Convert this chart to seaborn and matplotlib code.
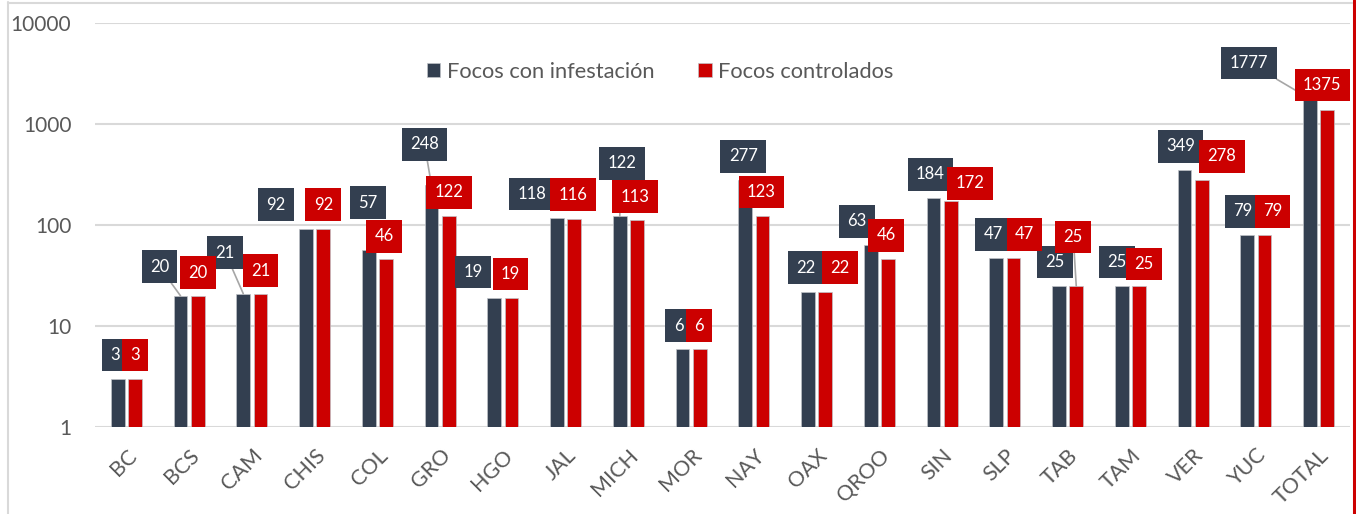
import matplotlib
matplotlib.use("Agg")
import matplotlib.pyplot as plt
from matplotlib.lines import Line2D
from matplotlib.ticker import NullLocator, FixedLocator, FixedFormatter
import seaborn as sns
import pandas as pd

# ---------------- data ----------------
estados = ["BC", "BCS", "CAM", "CHIS", "COL", "GRO", "HGO", "JAL", "MICH", "MOR",
           "NAY", "OAX", "QROO", "SIN", "SLP", "TAB", "TAM", "VER", "YUC", "TOTAL"]
focos_infestacion = [3, 20, 21, 92, 57, 248, 19, 118, 122, 6,
                     277, 22, 63, 184, 47, 25, 25, 349, 79, 1777]
focos_controlados = [3, 20, 21, 92, 46, 122, 19, 116, 113, 6,
                     123, 22, 46, 172, 47, 25, 25, 278, 79, 1375]
series_names = ["Focos con infestación", "Focos controlados"]
y_ticks = [1, 10, 100, 1000, 10000]
y_tick_labels = ["1", "10", "100", "1000", "10000"]

# ---------------- style ----------------
DARK = "#333F50"
RED = "#CC0000"
GRAY_TXT = "#595959"
GRID = "#D9D9D9"
FONT = ["Lato", "DejaVu Sans"]

# label offsets (pixels) from the top centre of each bar
off_dark = [(-3, 24), (-21, 29), (-18, 41), (-30, 24), (-1, 47), (-7, 41), (-21, 26),
            (-25, 24), (2, 53), (-4, 23), (-2, 24), (-2, 24), (-14, 24), (-3, 24),
            (-3, 24), (-4, 24), (-5, 24), (-4, 24), (-4, 24), (-61, 36)]
off_red = [(0, 24), (0, 23), (0, 23), (0, 24), (-2, 23), (0, 24), (-1, 24),
           (-1, 24), (-2, 23), (-1, 23), (-1, 24), (15, 24), (-2, 24), (19, 18),
           (11, 24), (-3, 49), (5, 22), (20, 24), (8, 24), (-5, 25)]
leader_dark = {"BCS", "CAM", "GRO", "MICH", "TOTAL"}
leader_red = {"TAB"}

sns.set_theme(style="white")
plt.rcParams["font.family"] = FONT

df = pd.DataFrame({
    "estado": estados * 2,
    "serie": [series_names[0]] * len(estados) + [series_names[1]] * len(estados),
    "valor": focos_infestacion + focos_controlados,
})

W, H = 1356, 514
fig = plt.figure(figsize=(W / 100, H / 100), dpi=100)
ax = fig.add_axes([95 / W, (H - 427.3) / H, (1350 - 95) / W, (427.3 - 23) / H])

sns.barplot(data=df, x="estado", y="valor", hue="serie", order=estados,
            hue_order=series_names, palette=[DARK, RED], width=0.55, gap=0.2,
            saturation=1, edgecolor="#BFC3C8", linewidth=0.5,
            ax=ax, zorder=2)
ax.set_yscale("log", nonpositive="clip")

ax.set_ylim(1, 10000)
ax.set_xlim(-0.5, len(estados) - 0.5)
ax.yaxis.set_major_locator(FixedLocator(y_ticks))
ax.yaxis.set_major_formatter(FixedFormatter(y_tick_labels))
ax.yaxis.set_minor_locator(NullLocator())
ax.grid(axis="y", color=GRID, linewidth=1.5, zorder=0)
ax.set_axisbelow(True)
for s in ax.spines.values():
    s.set_visible(False)
ax.set_xlabel("")
ax.set_ylabel("")
ax.tick_params(axis="y", length=0, pad=17, labelsize=15, labelcolor=GRAY_TXT)
ax.tick_params(axis="x", length=0, pad=13, labelsize=15.5, labelcolor=GRAY_TXT)
for lab in ax.get_xticklabels():
    lab.set_rotation(45)
    lab.set_ha("right")
    lab.set_va("top")
    lab.set_rotation_mode("anchor")

# data labels
px = 0.72  # points per pixel at 100 dpi
for cont, offs, col, leaders, z in [(ax.containers[0], off_dark, DARK, leader_dark, 5),
                                    (ax.containers[1], off_red, RED, leader_red, 6)]:
    for i, bar in enumerate(cont):
        xc = bar.get_x() + bar.get_width() / 2
        val = bar.get_y() + bar.get_height()
        dx, dy = offs[i]
        arrow = None
        if estados[i] in leaders:
            arrow = dict(arrowstyle="-", color="#A6A6A6", lw=1.2, shrinkA=0, shrinkB=0)
        ax.annotate(f"{int(round(val))}", xy=(xc, val), xytext=(dx * px, dy * px),
                    textcoords="offset points", ha="center", va="center",
                    fontsize=12, color="white", zorder=z,
                    bbox=dict(boxstyle="square,pad=0.5", fc=col, ec="none"),
                    arrowprops=arrow, annotation_clip=False)

# legend
handles, labels = ax.get_legend_handles_labels()
ax.legend(handles, labels, loc="center", bbox_to_anchor=(660 / W, 1 - 72 / H),
          bbox_transform=fig.transFigure, ncol=2, frameon=False,
          handlelength=0.62, handleheight=0.62, handletextpad=0.3,
          columnspacing=2.0, fontsize=15.75, labelcolor=GRAY_TXT)

# chart-area borders
fig.add_artist(Line2D([7.5 / W, 7.5 / W], [0, 1 - 2 / H], color="#D9D9D9", lw=1.5,
                      transform=fig.transFigure))
fig.add_artist(Line2D([7.5 / W, 1352 / W], [1 - 2.5 / H, 1 - 2.5 / H], color="#D9D9D9",
                      lw=1.5, transform=fig.transFigure))
fig.add_artist(Line2D([1353.5 / W, 1353.5 / W], [0, 1], color="#CC0000", lw=2.2,
                      transform=fig.transFigure))

fig.savefig("out.png", dpi=100)
